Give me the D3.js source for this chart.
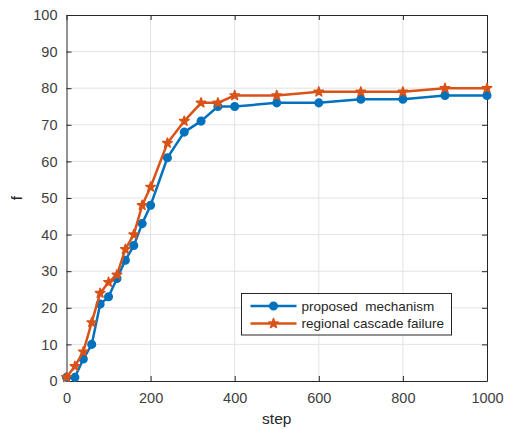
<!DOCTYPE html>
<html>
<head>
<meta charset="utf-8">
<script src="https://cdn.jsdelivr.net/npm/d3@7"></script>
<style>
body { margin: 0; background: #fff; }
text { font-family: "Liberation Sans", Arial, sans-serif; }
</style>
</head>
<body>
<svg id="chart" width="512" height="429"></svg>
<script>
const steps = [0, 20, 40, 60, 80, 100, 120, 140, 160, 180, 200, 240, 280, 320, 360, 400, 500, 600, 700, 800, 900, 1000];
const proposed = [1, 1, 6, 10, 21, 23, 28, 33, 37, 43, 48, 61, 68, 71, 75, 75, 76, 76, 77, 77, 78, 78];
const cascade = [1, 4, 8, 16, 24, 27, 29, 36, 40, 48, 53, 65, 71, 76, 76, 78, 78, 79, 79, 79, 80, 80];
const xTicks = [0, 200, 400, 600, 800, 1000];
const yTicks = [0, 10, 20, 30, 40, 50, 60, 70, 80, 90, 100];
const seriesNames = ["proposed  mechanism", "regional cascade failure"];
const colors = ["#0072BD", "#D95319"];

const margin = {top: 15, right: 25, bottom: 48, left: 66.5};
const width = 487 - margin.left;
const height = 381 - margin.top;

const svg = d3.select("#chart");
const g = svg.append("g")
    .attr("transform", "translate(" + margin.left + "," + margin.top + ")");

const x = d3.scaleLinear().domain([0, 1000]).range([0, width]);
const y = d3.scaleLinear().domain([0, 100]).range([height, 0]);

// grid
g.append("g")
    .selectAll("line")
    .data(xTicks.slice(1, -1))
    .enter().append("line")
    .attr("x1", d => x(d)).attr("x2", d => x(d))
    .attr("y1", 0).attr("y2", height)
    .attr("stroke", "#e3e3e3").attr("stroke-width", 1);
g.append("g")
    .selectAll("line")
    .data(yTicks.slice(1, -1))
    .enter().append("line")
    .attr("y1", d => y(d)).attr("y2", d => y(d))
    .attr("x1", 0).attr("x2", width)
    .attr("stroke", "#e3e3e3").attr("stroke-width", 1);

// axes, ticks inward like matlab
const axisColor = "#262626";
function styleAxis(sel, showText) {
    sel.select(".domain").attr("stroke", axisColor);
    sel.selectAll(".tick line").attr("stroke", axisColor);
    sel.selectAll(".tick text")
        .attr("fill", "#404040")
        .style("font-size", "14.5px")
        .style("display", showText ? null : "none");
}

g.append("g")
    .attr("transform", "translate(0," + height + ")")
    .call(d3.axisBottom(x).tickValues(xTicks).tickFormat(d3.format("d")).tickSize(-5).tickSizeOuter(0).tickPadding(12))
    .call(sel => styleAxis(sel, true));
g.append("g")
    .call(d3.axisTop(x).tickValues(xTicks).tickSize(-5).tickSizeOuter(0))
    .call(sel => styleAxis(sel, false));
g.append("g")
    .call(d3.axisLeft(y).tickValues(yTicks).tickSize(-5).tickSizeOuter(0).tickPadding(9))
    .call(sel => styleAxis(sel, true));
g.append("g")
    .attr("transform", "translate(" + width + ",0)")
    .call(d3.axisRight(y).tickValues(yTicks).tickSize(-5).tickSizeOuter(0))
    .call(sel => styleAxis(sel, false));

// lines
const series = [proposed, cascade];
const symbols = [d3.symbolCircle, d3.symbolStar];
const symSizes = [45, 28];
const line = d3.line()
    .x((d, i) => x(steps[i]))
    .y(d => y(d));

series.forEach(function (vals, k) {
    g.append("path")
        .datum(vals)
        .attr("fill", "none")
        .attr("stroke", colors[k])
        .attr("stroke-width", 2.5)
        .attr("stroke-linejoin", "round")
        .attr("d", line);
    g.selectAll(".dot" + k)
        .data(vals)
        .enter().append("path")
        .attr("class", "dot" + k)
        .attr("transform", (d, i) => "translate(" + x(steps[i]) + "," + y(d) + ")")
        .attr("d", d3.symbol().type(symbols[k]).size(symSizes[k]))
        .attr("fill", colors[k])
        .attr("stroke", colors[k])
        .attr("stroke-width", 1.5)
        .attr("stroke-linejoin", "round");
});

// axis labels
svg.append("text")
    .attr("x", margin.left + width / 2)
    .attr("y", 424)
    .attr("text-anchor", "middle")
    .attr("fill", "#262626")
    .style("font-size", "15.5px")
    .text("step");
svg.append("text")
    .attr("transform", "translate(22," + (margin.top + height / 2) + ") rotate(-90)")
    .attr("text-anchor", "middle")
    .attr("fill", "#262626")
    .style("font-size", "15.5px")
    .text("f");

// legend
const legend = svg.append("g").attr("transform", "translate(241.5,293.5)");
legend.append("rect")
    .attr("width", 210).attr("height", 41.5)
    .attr("fill", "#fff").attr("stroke", "#262626").attr("stroke-width", 1);
seriesNames.forEach(function (name, k) {
    const ly = 12.5 + k * 17.5;
    legend.append("line")
        .attr("x1", 9).attr("x2", 55)
        .attr("y1", ly).attr("y2", ly)
        .attr("stroke", colors[k]).attr("stroke-width", 2.5);
    legend.append("path")
        .attr("transform", "translate(32," + ly + ")")
        .attr("d", d3.symbol().type(symbols[k]).size(symSizes[k]))
        .attr("fill", colors[k])
        .attr("stroke", colors[k])
        .attr("stroke-width", 1.5)
        .attr("stroke-linejoin", "round");
    legend.append("text")
        .attr("x", 60).attr("y", ly + 4.5)
        .attr("fill", "#262626")
        .style("font-size", "13.5px")
        .style("white-space", "pre")
        .text(name);
});
</script>
</body>
</html>
